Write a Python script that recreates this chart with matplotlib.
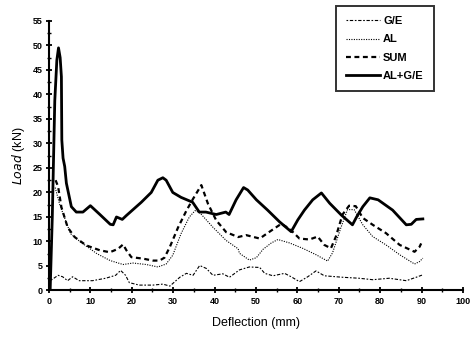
"""Load-deflection curves for AL, G/E, their sum and the AL+G/E hybrid."""

import matplotlib

matplotlib.use("Agg")
import matplotlib.pyplot as plt
from matplotlib.ticker import MultipleLocator

# Values (deflection in mm, load in kN)
hybrid_x = [0.3, 0.8, 1.4, 1.9, 2.3, 2.7, 3.0, 3.1, 3.4, 3.8, 4.2, 5.4, 6.6, 8.2, 10.0,
            12.3, 14.8, 15.5, 16.3, 17.7, 18.7, 20.3, 22.3, 24.7, 26.3, 27.5, 28.3,
            29.9, 31.9, 34.7, 36.3, 37.9, 40.4, 42.7, 43.5, 45.2, 47.0, 48.0, 50.1,
            52.8, 55.7, 58.5, 60.1, 61.7, 63.7, 65.8, 67.8, 70.6, 73.3, 74.3, 75.8,
            77.5, 79.5, 83.0, 86.3, 87.5, 88.7, 90.3]
hybrid_y = [0.5, 15.0, 38.7, 47.0, 49.5, 47.5, 43.6, 30.7, 27.0, 25.3, 21.9, 17.1,
            16.0, 16.0, 17.3, 15.5, 13.5, 13.4, 15.0, 14.5, 15.3, 16.5, 18.0, 20.0,
            22.5, 23.0, 22.5, 20.0, 19.0, 18.0, 16.0, 16.0, 15.5, 16.0, 15.5, 18.5,
            21.0, 20.5, 18.5, 16.4, 14.0, 12.0, 14.4, 16.4, 18.5, 19.9, 17.8, 15.4,
            13.4, 15.0, 17.1, 18.9, 18.5, 16.4, 13.4, 13.5, 14.5, 14.6]

sum_x = [1.6, 2.2, 3.0, 4.5, 6.2, 9.0, 12.3, 14.7, 16.7, 17.9, 18.7, 19.9, 22.7, 25.1,
         26.7, 27.9, 29.2, 31.2, 33.2, 34.8, 36.8, 38.4, 40.4, 42.8, 45.7, 47.6, 50.9,
         53.3, 56.1, 58.1, 60.5, 62.9, 64.9, 66.5, 68.1, 69.3, 70.9, 72.5, 74.1, 75.8,
         78.2, 81.4, 84.7, 88.3, 89.5, 89.9]
sum_y = [22.5, 21.2, 17.0, 12.9, 10.9, 9.2, 8.2, 7.8, 8.5, 9.4, 8.2, 6.8, 6.5, 6.1,
         6.1, 6.7, 8.9, 12.9, 16.3, 18.7, 21.5, 17.7, 14.3, 11.9, 10.9, 11.3, 10.6,
         12.0, 13.6, 12.6, 10.6, 10.4, 11.0, 9.3, 8.6, 11.0, 15.5, 17.3, 17.2, 14.8,
         13.4, 11.7, 9.3, 7.9, 8.9, 9.6]

al_x = [1.5, 2.6, 4.0, 5.2, 7.6, 11.6, 14.8, 17.9, 20.3, 23.5, 26.3, 28.3, 29.9, 31.9,
        33.9, 35.3, 36.5, 39.6, 42.8, 45.7, 46.0, 48.4, 50.1, 51.7, 53.7, 55.3, 58.1,
        61.3, 64.5, 67.3, 68.5, 70.5, 72.1, 73.7, 75.8, 78.2, 81.4, 84.7, 88.3, 89.5,
        90.3]
al_y = [21.0, 17.5, 14.3, 11.6, 9.9, 7.5, 6.1, 5.3, 5.6, 5.3, 4.8, 5.4, 7.2, 11.6,
        15.0, 16.3, 15.8, 12.9, 10.2, 8.5, 7.6, 6.2, 6.7, 8.4, 9.7, 10.4, 9.7, 8.6,
        7.3, 6.0, 7.7, 12.8, 16.5, 16.5, 13.4, 11.0, 9.3, 7.3, 5.4, 5.9, 6.6]

ge_x = [0.5, 2.2, 3.3, 4.5, 5.7, 7.3, 10.5, 13.7, 16.1, 17.3, 18.5, 19.4, 21.8, 25.1,
        27.5, 29.2, 31.6, 33.2, 34.8, 36.4, 38.0, 39.6, 42.0, 43.6, 46.0, 48.4, 50.9,
        52.1, 54.1, 56.9, 58.5, 60.5, 62.5, 64.5, 66.5, 70.9, 74.9, 78.2, 82.2, 86.3,
        88.7, 90.3]
ge_y = [2.1, 3.1, 2.8, 2.0, 2.8, 2.0, 2.0, 2.5, 3.1, 4.1, 3.1, 1.6, 1.1, 1.1, 1.3,
        0.9, 2.7, 3.5, 3.1, 5.1, 4.5, 3.1, 3.4, 2.7, 4.2, 4.8, 4.7, 3.5, 3.0, 3.5, 2.8,
        1.8, 2.8, 4.0, 3.0, 2.7, 2.5, 2.2, 2.5, 2.0, 2.7, 3.2]

X_LIMITS = (0, 100)
Y_LIMITS = (0, 55)

plt.rcParams["font.family"] = ["Liberation Sans", "DejaVu Sans"]

figure = plt.figure(figsize=(4.71, 3.37), dpi=100)
axis = figure.add_axes([0.104, 0.138, 0.879, 0.800])

axis.plot(ge_x, ge_y, color="black", linewidth=0.8,
          linestyle=(0, (1.5, 1.5, 3, 1.5)), label="G/E")
axis.plot(al_x, al_y, color="black", linewidth=0.8,
          linestyle=(0, (1, 1.2)), label="AL")
axis.plot(sum_x, sum_y, color="black", linewidth=1.6,
          linestyle=(0, (2.2, 1.6)), label="SUM")
axis.plot(hybrid_x, hybrid_y, color="black", linewidth=2.0,
          linestyle="-", label="AL+G/E")

axis.set_xlim(*X_LIMITS)
axis.set_ylim(*Y_LIMITS)
axis.xaxis.set_major_locator(MultipleLocator(10))
axis.xaxis.set_minor_locator(MultipleLocator(5))
axis.yaxis.set_major_locator(MultipleLocator(5))
axis.yaxis.set_minor_locator(MultipleLocator(2.5))
axis.tick_params(which="major", direction="inout", length=5, width=1.3,
                 labelsize=6.5, pad=2)
axis.tick_params(which="minor", direction="inout", length=3, width=1.0)
for tick_label in axis.get_xticklabels() + axis.get_yticklabels():
    tick_label.set_fontweight("bold")

for side in ("top", "right"):
    axis.spines[side].set_visible(False)
for side in ("left", "bottom"):
    axis.spines[side].set_linewidth(1.5)

axis.set_xlabel("Deflection (mm)", fontsize=9, labelpad=8)
axis.set_ylabel("$\\it{Load}$ (kN)", fontsize=9, labelpad=4)

legend = axis.legend(
    loc="upper right",
    bbox_to_anchor=(0.921, 0.982),
    bbox_transform=figure.transFigure,
    borderaxespad=0,
    fancybox=False,
    frameon=True,
    edgecolor="black",
    fontsize=8,
    handlelength=3.0,
    handletextpad=0.3,
    labelspacing=0.75,
    borderpad=0.9,
)
legend.get_frame().set_linewidth(1.4)
for text in legend.get_texts():
    text.set_fontweight("bold")

figure.savefig("out.png", dpi=100)
